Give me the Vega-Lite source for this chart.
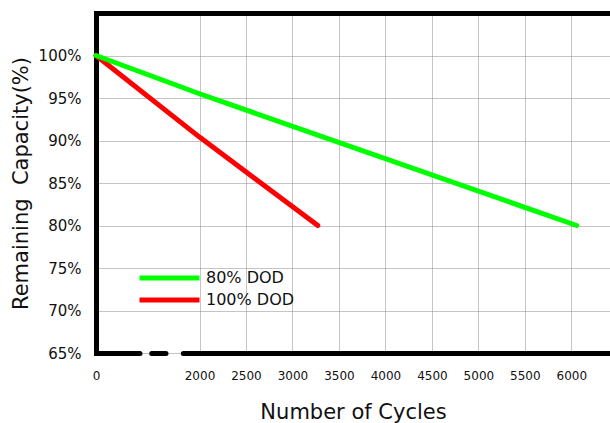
{
  "$schema": "https://vega.github.io/schema/vega-lite/v6.json",
  "width": 514,
  "height": 340,
  "autosize": "none",
  "padding": {"left": 96, "top": 13, "right": 0, "bottom": 70},
  "background": "white",
  "config": {"view": {"stroke": null}, "font": "DejaVu Sans"},
  "data": {"values": [
    {"cycles": 0, "capacity": 100, "series": "100% DOD"},
    {"cycles": 2000, "capacity": 90.4, "series": "100% DOD"},
    {"cycles": 3273, "capacity": 80, "series": "100% DOD"},
    {"cycles": 0, "capacity": 100, "series": "80% DOD"},
    {"cycles": 2000, "capacity": 95.5, "series": "80% DOD"},
    {"cycles": 6058, "capacity": 80, "series": "80% DOD"}
  ]},
  "layer": [
    {
      "mark": {"type": "line", "opacity": 0},
      "encoding": {
        "x": {"field": "cycles", "type": "quantitative",
          "scale": {"domain": [0, 2000, 6416], "range": [0, 103.5, 514], "nice": false, "zero": false},
          "axis": {"orient": "top", "labels": false, "ticks": false, "grid": false, "title": null, "domainColor": "black", "domainWidth": 5, "domainCap": "square"}},
        "y": {"field": "capacity", "type": "quantitative",
          "scale": {"domain": [65, 105], "nice": false, "zero": false},
          "axis": {"values": [65, 70, 75, 80, 85, 90, 95, 100], "labelExpr": "datum.value + '%'",
            "ticks": false, "labelFontSize": 15, "labelColor": "#111", "labelPadding": 15, "labelFlush": false,
            "grid": true, "gridColor": "#888", "gridDash": [1, 1], "gridWidth": 1,
            "domainColor": "black", "domainWidth": 5, "domainCap": "square",
            "title": "Remaining\u00a0 Capacity(%)", "titleFontSize": 21, "titleFontWeight": "normal", "titleColor": "#111", "titlePadding": 7}}
      }
    },
    {
      "mark": {"type": "line", "strokeWidth": 5, "strokeCap": "round", "strokeJoin": "round"},
      "encoding": {
        "x": {"field": "cycles", "type": "quantitative",
          "axis": {"orient": "bottom", "values": [0, 2000, 2500, 3000, 3500, 4000, 4500, 5000, 5500, 6000], "format": "d",
            "ticks": false, "labelFontSize": 12, "labelColor": "#111", "labelPadding": 17, "labelFlush": false,
            "grid": true, "gridColor": "#888", "gridDash": [1, 1], "gridWidth": 1,
            "domainColor": "black", "domainWidth": 5, "domainCap": "round", "domainDash": [43.5, 11.7, 14.3, 17.3, 3000, 1],
            "title": "Number of Cycles", "titleFontSize": 21, "titleFontWeight": "normal", "titleColor": "#111", "titlePadding": 20}},
        "y": {"field": "capacity", "type": "quantitative"},
        "color": {"field": "series", "type": "nominal",
          "scale": {"domain": ["80% DOD", "100% DOD"], "range": ["#00ff00", "#ff0000"]},
          "legend": {"orient": "none", "legendX": 41, "legendY": 255, "title": null,
            "symbolType": "stroke", "symbolSize": 3600, "symbolStrokeWidth": 5, "clipHeight": 20,
            "labelFontSize": 16, "labelColor": "#111", "labelOffset": 4, "rowPadding": 2, "padding": 0}}
      }
    }
  ],
  "resolve": {"axis": {"x": "independent"}}
}
